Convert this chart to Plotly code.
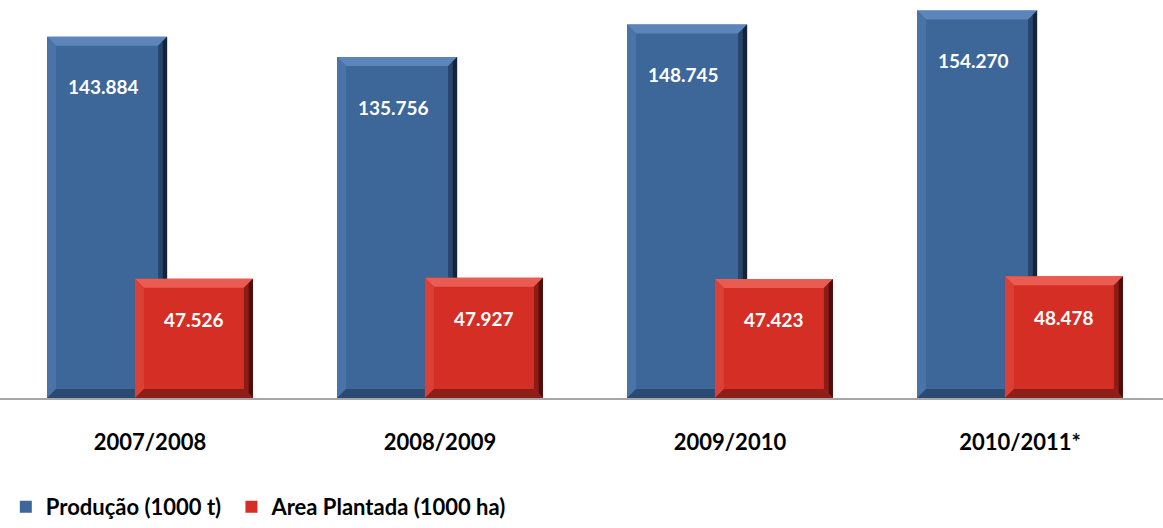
import plotly.graph_objects as go

# Safras e valores (mil toneladas / mil hectares)
categorias = ["2007/2008", "2008/2009", "2009/2010", "2010/2011*"]
producao = [143.884, 135.756, 148.745, 154.270]
area_plantada = [47.526, 47.927, 47.423, 48.478]
nomes = ["Produção (1000 t)", "Area Plantada (1000 ha)"]

idx = list(range(len(categorias)))

# geometry of the paired bars (category units)
W_BLUE, OFF_BLUE = 0.414, -0.355
W_RED, OFF_RED = 0.407, -0.052

Y_MAX = 158.5
PLOT_H = 398
PX_X = 290.0
PX_Y = PLOT_H / Y_MAX

BLUE = "#3D6699"
RED = "#D42E25"

fig = go.Figure()
fig.add_trace(go.Bar(
    x=idx, y=producao, name=nomes[0], width=W_BLUE, offset=OFF_BLUE,
    marker=dict(color=BLUE, line=dict(width=0)), hoverinfo="y",
    legend="legend",
))
fig.add_trace(go.Bar(
    x=idx, y=area_plantada, name=nomes[1], width=W_RED, offset=OFF_RED,
    marker=dict(color=RED, line=dict(width=0)), hoverinfo="y",
    legend="legend2",
))


def poly(pts, color):
    path = "M " + " L ".join(f"{x},{y}" for x, y in pts) + " Z"
    return dict(type="path", path=path, xref="x", yref="y",
                fillcolor=color, line=dict(width=0), layer="above")


def bevel(L, R, V, top, left, right_out, right_in, bottom, clip_y=0.0, clip_x=None):
    """Bevelled faces of one bar; clip_y / clip_x hide parts behind a neighbour."""
    out = []
    bx, by = 9 / PX_X, 9 / PX_Y
    hx, hy = bx / 2, by / 2
    out.append(poly([(L, V), (R, V), (R - bx, V - by), (L + bx, V - by)], top))
    out.append(poly([(L, 0), (L, V), (L + bx, V - by), (L + bx, by)], left))
    y0 = max(clip_y, 0)
    out.append(poly([(R - hx, max(y0, hy)), (R - hx, V - hy), (R - bx, V - by), (R - bx, max(y0, by))], right_in))
    out.append(poly([(R, y0), (R, V), (R - hx, V - hy), (R - hx, max(y0, hy))], right_out))
    xr = R if clip_x is None else clip_x
    out.append(poly([(L, 0), (xr, 0), (min(xr, R - bx), by), (L + bx, by)], bottom))
    return out


shapes = []
annotations = []
for i in idx:
    L = i + OFF_BLUE
    R = L + W_BLUE
    V = producao[i]
    L2 = i + OFF_RED
    R2 = L2 + W_RED
    V2 = area_plantada[i]

    shapes += bevel(L, R, V, "#5C86BB", "#4A74A8", "#15243A", "#28456C", "#2B4A73",
                    clip_y=V2, clip_x=L2)
    shapes += bevel(L2, R2, V2, "#EA5C52", "#DB4036", "#4E0E0B", "#8C1C16", "#8E1E18")

    # value labels inside the top of each bar
    annotations.append(dict(
        x=L + W_BLUE / 2 - 0.012, y=V, xref="x", yref="y", yshift=-50,
        text=f"{V:.3f}", showarrow=False,
        font=dict(family="Lato", size=19, color="white", weight="bold"),
    ))
    annotations.append(dict(
        x=L2 + W_RED / 2, y=V2, xref="x", yref="y", yshift=-41,
        text=f"{V2:.3f}", showarrow=False,
        font=dict(family="Lato", size=19, color="white", weight="bold"),
    ))

legend_font = dict(family="Lato", size=22, color="black", weight="bold")
LEG_Y = -(528 - PLOT_H) / PLOT_H
fig.update_layout(
    width=1163, height=528,
    margin=dict(l=0, r=0, t=0, b=528 - PLOT_H),
    barmode="overlay",
    plot_bgcolor="white", paper_bgcolor="white",
    shapes=shapes, annotations=annotations,
    showlegend=True,
    legend=dict(
        orientation="h", x=0.005, xanchor="left", y=LEG_Y, yanchor="bottom",
        font=legend_font, bgcolor="rgba(0,0,0,0)",
    ),
    legend2=dict(
        orientation="h", x=0.199, xanchor="left", y=LEG_Y, yanchor="bottom",
        font=legend_font, bgcolor="rgba(0,0,0,0)",
    ),
    font=dict(family="Lato"),
)
fig.update_xaxes(
    range=[-150 / PX_X, (1163 - 150) / PX_X],
    tickvals=idx, ticktext=categorias,
    tickfont=dict(family="Lato", size=22, color="black", weight="bold"),
    showline=True, linecolor="#A6A6A6", linewidth=2,
    showgrid=False, zeroline=False, ticks="", ticklabelstandoff=24,
    fixedrange=True,
)
fig.update_yaxes(
    range=[0, Y_MAX], visible=False, showgrid=False, zeroline=False,
    fixedrange=True,
)

fig.write_html("out.html")
